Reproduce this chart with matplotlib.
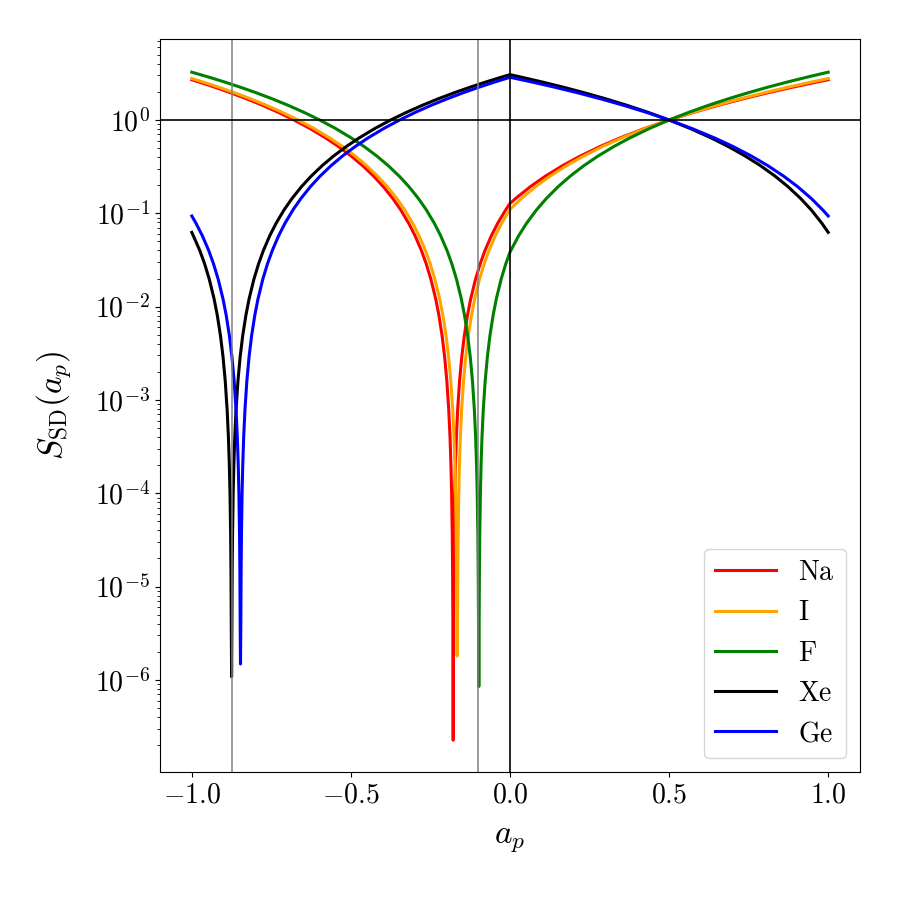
import math
import matplotlib
matplotlib.use("Agg")
import matplotlib.pyplot as plt
from matplotlib.ticker import FuncFormatter, LogLocator, FixedLocator, NullFormatter

plt.rcParams['mathtext.fontset'] = 'cm'
plt.rcParams['font.family'] = 'serif'
plt.rcParams['font.serif'] = ['cmr10', 'DejaVu Serif']
plt.rcParams['axes.formatter.use_mathtext'] = True

labels = ['Na', 'I', 'F', 'Xe', 'Ge']
colors = ['red', 'orange', 'green', 'black', 'blue']

# ---- Na ----
na_x = [-1.0, -0.9785, -0.9285, -0.8785, -0.8285, -0.7785, -0.7285, -0.6785, -0.6285, -0.5785,
        -0.5385, -0.4985, -0.4635, -0.4285, -0.3985, -0.3685, -0.3435, -0.3185, -0.2985, -0.2785,
        -0.2635, -0.2485, -0.2335, -0.2235, -0.2135, -0.2055, -0.1985, -0.1925, -0.1885, -0.1855,
        -0.1835, -0.1815, -0.1805, -0.1795, -0.1785,
        -0.1775, -0.1765, -0.1755, -0.1735, -0.1715, -0.1685, -0.1645, -0.1585, -0.1515, -0.1435,
        -0.1335, -0.1235, -0.1085, -0.0935, -0.0785, -0.0585, -0.0385, -0.0135, 0.0,
        0.0179, 0.0645, 0.1112, 0.1656, 0.2201, 0.2823, 0.3445, 0.4222, 0.5, 0.5778,
        0.6555, 0.7333, 0.8110, 0.8888, 0.9666, 1.0]
na_y = [2.6995, 2.56, 2.25, 1.96, 1.69, 1.44, 1.21, 1.0, 0.81, 0.64,
        0.5184, 0.4096, 0.3249, 0.25, 0.1936, 0.1444, 0.1089, 0.0784, 0.0576, 0.04,
        0.0289, 0.0196, 0.0121, 0.0081, 0.0049, 0.002916, 0.0016, 7.84e-4, 4.0e-4, 1.96e-4,
        1.0e-4, 3.6e-5, 1.6e-5, 4.0e-6, 2.26e-7,
        4.0e-6, 1.6e-5, 3.6e-5, 1.0e-4, 1.96e-4, 4.0e-4, 7.84e-4, 1.6e-3, 2.916e-3, 4.9e-3,
        8.1e-3, 0.0121, 0.0196, 0.0289, 0.04, 0.0576, 0.0784, 0.1089, 0.1275,
        0.1444, 0.1936, 0.25, 0.3249, 0.4096, 0.5184, 0.64, 0.81, 1.0, 1.21,
        1.44, 1.69, 1.96, 2.25, 2.56, 2.6995]

# ---- I ----
i_x = [-1.0, -0.966, -0.916, -0.866, -0.816, -0.766, -0.716, -0.666, -0.616, -0.566,
       -0.526, -0.486, -0.451, -0.416, -0.386, -0.356, -0.331, -0.306, -0.286, -0.266,
       -0.251, -0.236, -0.221, -0.211, -0.201, -0.193, -0.186, -0.180, -0.176, -0.173,
       -0.171, -0.169, -0.168, -0.167, -0.166,
       -0.165, -0.164, -0.163, -0.161, -0.159, -0.156, -0.152, -0.146, -0.139, -0.131,
       -0.121, -0.111, -0.096, -0.081, -0.066, -0.046, -0.026, 0.0,
       0.0359, 0.0808, 0.1257, 0.1781, 0.2305, 0.2904, 0.3503, 0.4251, 0.5, 0.5749,
       0.6497, 0.7246, 0.7994, 0.8743, 0.9491, 1.0]
i_y = [2.7822, 2.56, 2.25, 1.96, 1.69, 1.44, 1.21, 1.0, 0.81, 0.64,
       0.5184, 0.4096, 0.3249, 0.25, 0.1936, 0.1444, 0.1089, 0.0784, 0.0576, 0.04,
       0.0289, 0.0196, 0.0121, 0.0081, 0.0049, 0.002916, 0.0016, 7.84e-4, 4.0e-4, 1.96e-4,
       1.0e-4, 3.6e-5, 1.6e-5, 4.0e-6, 1.8e-6,
       4.0e-6, 1.6e-5, 3.6e-5, 1.0e-4, 1.96e-4, 4.0e-4, 7.84e-4, 1.6e-3, 2.916e-3, 4.9e-3,
       8.1e-3, 0.0121, 0.0196, 0.0289, 0.04, 0.0576, 0.0784, 0.1102,
       0.1444, 0.1936, 0.25, 0.3249, 0.4096, 0.5184, 0.64, 0.81, 1.0, 1.21,
       1.44, 1.69, 1.96, 2.25, 2.56, 2.7822]

# ---- F ----
f_x = [-1.0, -0.948, -0.898, -0.848, -0.798, -0.748, -0.698, -0.648, -0.598, -0.548,
       -0.498, -0.458, -0.418, -0.383, -0.348, -0.318, -0.288, -0.263, -0.238, -0.218,
       -0.198, -0.183, -0.168, -0.153, -0.143, -0.133, -0.125, -0.118, -0.112, -0.108,
       -0.105, -0.103, -0.101, -0.100, -0.099, -0.098,
       -0.097, -0.096, -0.095, -0.093, -0.091, -0.088, -0.084, -0.078, -0.071, -0.063,
       -0.053, -0.043, -0.028, -0.013, 0.0,
       0.0274, 0.0522, 0.0833, 0.1144, 0.1517, 0.1891, 0.2326, 0.2761, 0.3259, 0.3756,
       0.4378, 0.5, 0.5622, 0.6244, 0.6866, 0.7488, 0.8109, 0.8731, 0.9353, 1.0]
f_y = [3.2544, 2.89, 2.56, 2.25, 1.96, 1.69, 1.44, 1.21, 1.0, 0.81,
       0.64, 0.5184, 0.4096, 0.3249, 0.25, 0.1936, 0.1444, 0.1089, 0.0784, 0.0576,
       0.04, 0.0289, 0.0196, 0.0121, 0.0081, 0.0049, 0.002916, 0.0016, 7.84e-4, 4.0e-4,
       1.96e-4, 1.0e-4, 3.6e-5, 1.6e-5, 4.0e-6, 8.5e-7,
       4.0e-6, 1.6e-5, 3.6e-5, 1.0e-4, 1.96e-4, 4.0e-4, 7.84e-4, 1.6e-3, 2.916e-3, 4.9e-3,
       8.1e-3, 0.0121, 0.0196, 0.0289, 0.03842,
       0.0576, 0.0784, 0.1089, 0.1444, 0.1936, 0.25, 0.3249, 0.4096, 0.5184, 0.64,
       0.81, 1.0, 1.21, 1.44, 1.69, 1.96, 2.25, 2.56, 2.89, 3.2544]

# ---- Xe ----
xe_x = [-1.0, -0.975, -0.960, -0.945, -0.930, -0.920, -0.910, -0.902, -0.895, -0.889,
        -0.885, -0.882, -0.880, -0.878, -0.877, -0.876, -0.875,
        -0.874, -0.873, -0.872, -0.870, -0.868, -0.865, -0.861, -0.855, -0.848, -0.840,
        -0.830, -0.820, -0.805, -0.790, -0.775, -0.755, -0.735, -0.710, -0.685, -0.655,
        -0.625, -0.590, -0.555, -0.515, -0.475, -0.425, -0.375, -0.325, -0.275, -0.225,
        -0.175, -0.125, -0.075, -0.025, 0.0,
        0.0333, 0.1, 0.1667, 0.2333, 0.3, 0.3667, 0.4333, 0.5, 0.5667, 0.6333,
        0.6867, 0.74, 0.7867, 0.8333, 0.8733, 0.9133, 0.9467, 0.98, 1.0]
xe_y = [0.0625, 0.04, 0.0289, 0.0196, 0.0121, 0.0081, 0.0049, 0.002916, 0.0016, 7.84e-4,
        4.0e-4, 1.96e-4, 1.0e-4, 3.6e-5, 1.6e-5, 4.0e-6, 1.08e-6,
        4.0e-6, 1.6e-5, 3.6e-5, 1.0e-4, 1.96e-4, 4.0e-4, 7.84e-4, 1.6e-3, 2.916e-3, 4.9e-3,
        8.1e-3, 0.0121, 0.0196, 0.0289, 0.04, 0.0576, 0.0784, 0.1089, 0.1444, 0.1936,
        0.25, 0.3249, 0.4096, 0.5184, 0.64, 0.81, 1.0, 1.21, 1.44, 1.69,
        1.96, 2.25, 2.56, 2.89, 3.0625,
        2.89, 2.56, 2.25, 1.96, 1.69, 1.44, 1.21, 1.0, 0.81, 0.64,
        0.5184, 0.4096, 0.3249, 0.25, 0.1936, 0.1444, 0.1089, 0.0784, 0.0625]

# ---- Ge ----
ge_x = [-1.0, -0.987, -0.967, -0.947, -0.932, -0.917, -0.902, -0.892, -0.882, -0.874,
        -0.867, -0.861, -0.857, -0.854, -0.852, -0.850, -0.849, -0.848, -0.847,
        -0.846, -0.845, -0.844, -0.842, -0.840, -0.837, -0.833, -0.827, -0.820, -0.812,
        -0.802, -0.792, -0.777, -0.762, -0.747, -0.727, -0.707, -0.682, -0.657, -0.627,
        -0.597, -0.562, -0.527, -0.487, -0.447, -0.397, -0.347, -0.297, -0.247, -0.197,
        -0.147, -0.097, -0.047, 0.0,
        0.0677, 0.1398, 0.2118, 0.2839, 0.3559, 0.4280, 0.5, 0.5720, 0.6441, 0.7017,
        0.7594, 0.8098, 0.8602, 0.9035, 0.9467, 0.9827, 1.0]
ge_y = [0.09364, 0.0784, 0.0576, 0.04, 0.0289, 0.0196, 0.0121, 0.0081, 0.0049, 0.002916,
        0.0016, 7.84e-4, 4.0e-4, 1.96e-4, 1.0e-4, 3.6e-5, 1.6e-5, 4.0e-6, 1.48e-6,
        4.0e-6, 1.6e-5, 3.6e-5, 1.0e-4, 1.96e-4, 4.0e-4, 7.84e-4, 1.6e-3, 2.916e-3, 4.9e-3,
        8.1e-3, 0.0121, 0.0196, 0.0289, 0.04, 0.0576, 0.0784, 0.1089, 0.1444, 0.1936,
        0.25, 0.3249, 0.4096, 0.5184, 0.64, 0.81, 1.0, 1.21, 1.44, 1.69,
        1.96, 2.25, 2.56, 2.8696,
        2.56, 2.25, 1.96, 1.69, 1.44, 1.21, 1.0, 0.81, 0.64, 0.5184,
        0.4096, 0.3249, 0.25, 0.1936, 0.1444, 0.1089, 0.09364]

gray_lines = [-0.875, -0.1]
x_ticks = [-1.0, -0.5, 0.0, 0.5, 1.0]

series_x = [na_x, i_x, f_x, xe_x, ge_x]
series_y = [na_y, i_y, f_y, xe_y, ge_y]

fig = plt.figure(figsize=(9, 9), dpi=100)
ax = fig.add_axes([160/900, 1-772/900, 700/900, (772-39)/900])

for xs, ys, lab, col in zip(series_x, series_y, labels, colors):
    ax.plot(xs, ys, color=col, lw=2.2, label=r'$\mathrm{%s}$' % lab)

ax.set_yscale('log')
for g in gray_lines:
    ax.axvline(g, color='gray', lw=1.1)
ax.axhline(1.0, color='black', lw=1.2)
ax.axvline(0.0, color='black', lw=1.2)

ax.set_xlim(-1.1, 1.1)
ax.set_ylim(1.03e-7, 7.38)

ax.xaxis.set_major_locator(FixedLocator(x_ticks))
ax.xaxis.set_major_formatter(FuncFormatter(lambda v, p: r'$%.1f$' % v))
ax.yaxis.set_major_locator(LogLocator(base=10, numticks=30))
ax.yaxis.set_minor_locator(LogLocator(base=10, subs=[2, 3, 4, 5, 6, 7, 8, 9], numticks=30))
ax.yaxis.set_minor_formatter(NullFormatter())
ax.yaxis.set_major_formatter(FuncFormatter(lambda v, p: r'$10^{%d}$' % round(math.log10(v))))
ax.tick_params(axis='both', which='major', labelsize=20)

ax.set_xlabel(r'$a_p$', fontsize=24, labelpad=12)
ax.set_ylabel(r'$S_{\mathrm{SD}}(a_p)$', fontsize=24, labelpad=16)

ax.legend(loc='lower right', fontsize=20, handlelength=2.2)

fig.savefig('out.png', dpi=100)
